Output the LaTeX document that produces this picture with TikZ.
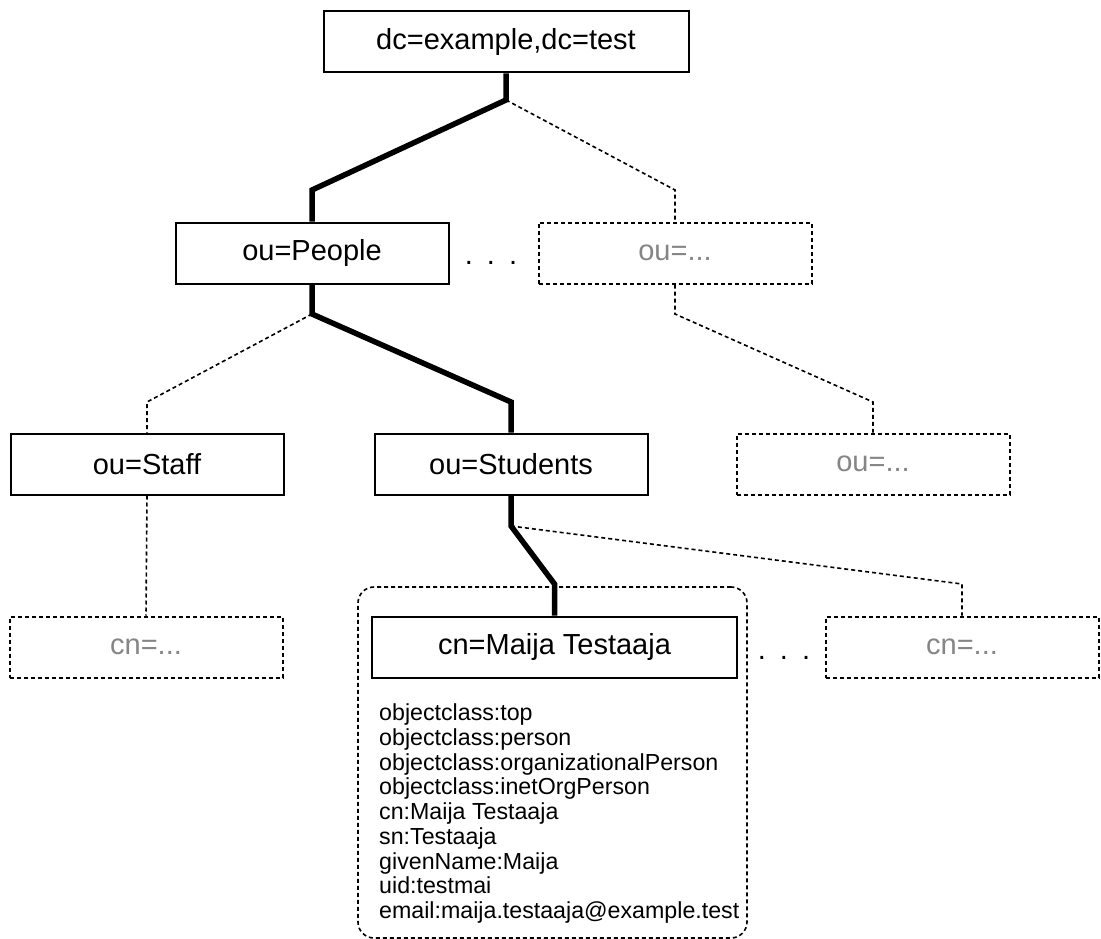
\documentclass[tikz,border=0pt]{standalone}
\usepackage{fontspec}
\setmainfont{Liberation Sans}
\definecolor{ghostgray}{gray}{0.52}
\begin{document}
\begin{tikzpicture}[x=1pt,y=-1pt,
  entry/.style={draw, line width=2pt, minimum height=61pt, inner sep=0pt,
    font=\fontsize{29}{33}\selectfont},
  wide/.style={entry, minimum width=365pt},
  narrow/.style={entry, minimum width=273pt},
  ghost/.style={narrow, dash pattern=on 4pt off 3pt, text=ghostgray},
  ellipsis/.style={inner sep=0pt, anchor=base, font=\fontsize{29}{33}\selectfont},
  container/.style={draw, line width=1.6pt, dash pattern=on 4pt off 3pt,
    rounded corners=16pt, minimum width=389pt, minimum height=351pt, inner sep=0pt},
  attrs/.style={inner sep=0pt, align=left, anchor=north west,
    font=\fontsize{23.2}{24.75}\selectfont},
  mainline/.style={line width=5.5pt},
  sideline/.style={line width=1.6pt, dash pattern=on 4pt off 3pt},
]
\path[use as bounding box] (0,0) rectangle (1101,939);

% entry record frame (behind everything else)
\node[container] (record) at (552.5,762.5) {};

% directory tree
\node[wide]   (root)     at (506,42)    {dc=example,dc=test};
\node[narrow] (people)   at (312,253)   {ou=People};
\node[ghost]  (ou1)      at (675,253)   {ou=...};
\node[ellipsis] (dots1)  at (491,264)   {.\hspace{14pt}.\hspace{14pt}.};
\node[narrow] (staff)    at (147,464)   {ou=Staff};
\node[narrow] (students) at (511,464)   {ou=Students};
\node[ghost]  (ou2)      at (873,464)   {ou=...};
\node[ghost]  (cn1)      at (146,647)   {cn=...};
\node[wide]   (maija)    at (554.5,647) {cn=Maija Testaaja};
\node[ellipsis] (dots2)  at (784,659)   {.\hspace{14pt}.\hspace{14pt}.};
\node[ghost]  (cn2)      at (962,647)   {cn=...};

% attributes of the entry
\node[attrs] (attrlist) at (379,703.5) {objectclass:top\\
objectclass:person\\
objectclass:organizationalPerson\\
objectclass:inetOrgPerson\\
cn:Maija Testaaja\\
sn:Testaaja\\
givenName:Maija\\
uid:testmai\\
email:maija.testaaja@example.test};

% bend points
\coordinate (r0) at (506,100);
\coordinate (r1) at (312,190);
\coordinate (r2) at (675,190);
\coordinate (p0) at (312,314);
\coordinate (p1) at (511,402);
\coordinate (p2) at (147,402);
\coordinate (o0) at (675,314);
\coordinate (o1) at (873,402);
\coordinate (s0) at (511,526);
\coordinate (s1) at (554.5,584);
\coordinate (s2) at (962,584);

% connectors
\draw[mainline] (root.south) -- (r0) -- (r1) -- (people.north);
\draw[sideline] (r0) -- (r2) -- (ou1.north);
\draw[mainline] (people.south) -- (p0) -- (p1) -- (students.north);
\draw[sideline] (p0) -- (p2) -- (staff.north);
\draw[sideline] (ou1.south) -- (o0) -- (o1) -- (ou2.north);
\draw[sideline] (staff.south) -- (cn1.north);
\draw[mainline] (students.south) -- (s0) -- (s1) -- (maija.north);
\draw[sideline] (s0) -- (s2) -- (cn2.north);
\end{tikzpicture}
\end{document}
